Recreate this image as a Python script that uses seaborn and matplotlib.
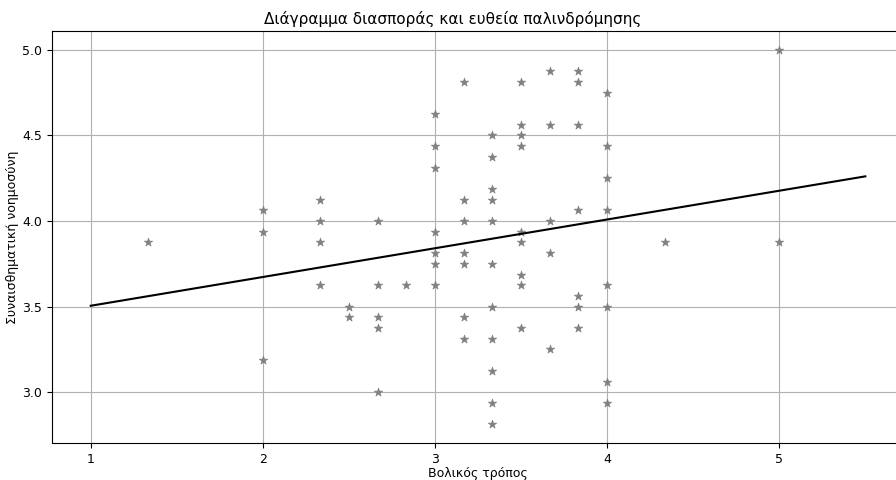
import numpy as np
import pandas as pd
import matplotlib
matplotlib.use("Agg")
import matplotlib.pyplot as plt
import seaborn as sns

# ─── Data ─────────────────────────────────────────────────────────────────────
# x = "Βολικός τρόπος", y = "Συναισθηματική νοημοσύνη"
x_vals = (
    [4/3]
    + [2] * 3
    + [7/3] * 4
    + [2.5] * 2
    + [8/3] * 5
    + [17/6]
    + [3] * 7
    + [19/6] * 7
    + [10/3] * 11
    + [3.5] * 9
    + [11/3] * 5
    + [23/6] * 7
    + [4] * 8
    + [13/3]
    + [5] * 2
)
y_vals = [
    3.875,
    4.0625, 3.9375, 3.1875,
    4.125, 4.0, 3.875, 3.625,
    3.5, 3.4375,
    4.0, 3.625, 3.4375, 3.375, 3.0,
    3.625,
    4.625, 4.4375, 4.3125, 3.9375, 3.8125, 3.75, 3.625,
    4.8125, 4.125, 4.0, 3.8125, 3.75, 3.4375, 3.3125,
    4.5, 4.375, 4.1875, 4.125, 4.0, 3.75, 3.5, 3.3125, 3.125, 2.9375, 2.8125,
    4.8125, 4.5625, 4.5, 4.4375, 3.9375, 3.875, 3.6875, 3.625, 3.375,
    4.875, 4.5625, 4.0, 3.8125, 3.25,
    4.875, 4.8125, 4.5625, 4.0625, 3.5625, 3.5, 3.375,
    4.75, 4.4375, 4.25, 4.0625, 3.625, 3.5, 3.0625, 2.9375,
    3.875,
    5.0, 3.875,
]

# regression line
intercept = 3.337
slope     = 0.168
line_x    = [1.0, 5.5]

df = pd.DataFrame({"x": x_vals, "y": y_vals})
reg = pd.DataFrame({"x": line_x})
reg["y"] = intercept + slope * reg["x"]

# ─── Plot ─────────────────────────────────────────────────────────────────────
fig = plt.figure(figsize=(8.96, 4.8), dpi=100)
ax = fig.add_axes([0.058, 0.077, 0.951, 0.858])

sns.scatterplot(data=df, x="x", y="y", marker="*", color="gray",
                s=40, edgecolor="gray", linewidth=0.5, ax=ax, zorder=3)
sns.lineplot(data=reg, x="x", y="y", color="black", linewidth=1.5, ax=ax, zorder=4)

ax.set_xlim(0.775, 5.725)
ax.set_ylim(2.703, 5.109)
ax.set_xticks([1, 2, 3, 4, 5])
ax.set_yticks([3.0, 3.5, 4.0, 4.5, 5.0])
ax.tick_params(labelsize=9)
ax.grid(True, color="#b0b0b0", linewidth=0.8)
ax.set_axisbelow(True)

ax.set_xlabel("Βολικός τρόπος", fontsize=9, labelpad=1)
ax.set_ylabel("Συναισθηματική νοημοσύνη", fontsize=9, labelpad=2)
ax.set_title("Διάγραμμα διασποράς και ευθεία παλινδρόμησης", x=0.47, fontsize=11, pad=5)

fig.savefig("out.png", dpi=100)
